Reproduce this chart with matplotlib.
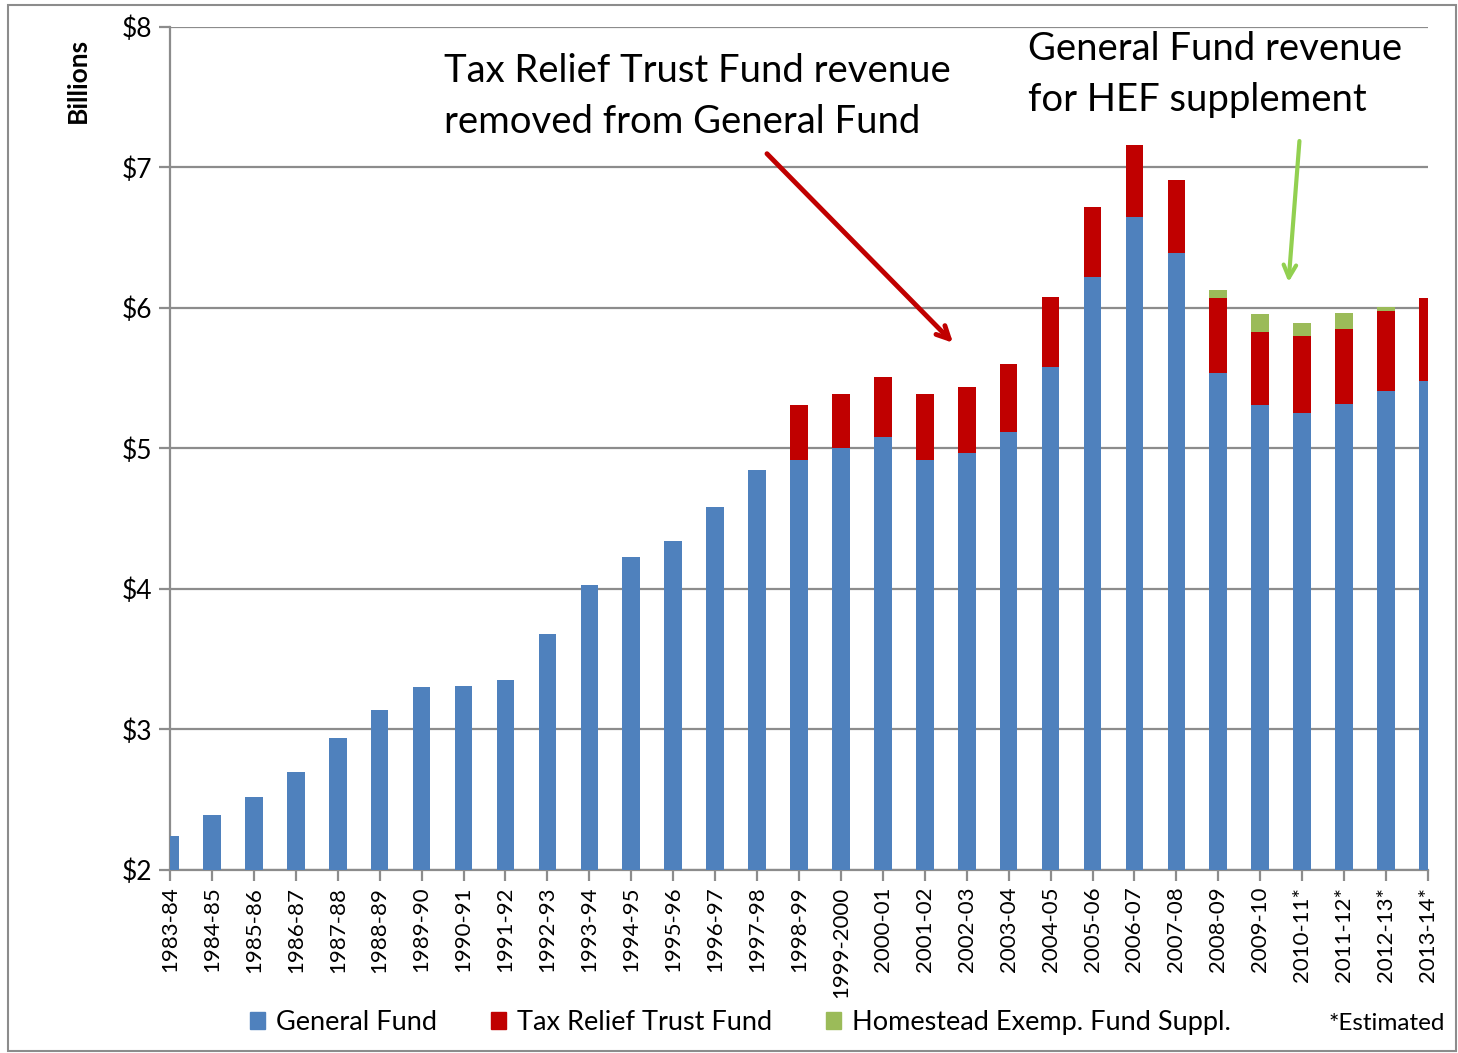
import numpy as np
import matplotlib
matplotlib.use("Agg")
import matplotlib.pyplot as plt
from matplotlib.patches import Rectangle, Patch

plt.rcParams['font.family'] = ['Lato', 'DejaVu Sans']

years = ['1983-84', '1984-85', '1985-86', '1986-87', '1987-88', '1988-89',
         '1989-90', '1990-91', '1991-92', '1992-93', '1993-94', '1994-95',
         '1995-96', '1996-97', '1997-98', '1998-99', '1999-2000', '2000-01',
         '2001-02', '2002-03', '2003-04', '2004-05', '2005-06', '2006-07',
         '2007-08', '2008-09', '2009-10', '2010-11*', '2011-12*', '2012-13*',
         '2013-14*']

# billions of dollars
general_fund = [2.24, 2.39, 2.52, 2.70, 2.94, 3.14, 3.30, 3.31, 3.35, 3.68,
                4.03, 4.23, 4.34, 4.58, 4.85, 4.92, 5.00, 5.08, 4.92, 4.97,
                5.12, 5.58, 6.22, 6.65, 6.39, 5.54, 5.31, 5.25, 5.32, 5.41,
                5.48]
tax_relief = [0, 0, 0, 0, 0, 0, 0, 0, 0, 0,
              0, 0, 0, 0, 0, 0.39, 0.39, 0.43, 0.47, 0.47,
              0.48, 0.50, 0.50, 0.51, 0.52, 0.53, 0.52, 0.55, 0.53, 0.57,
              0.59]
homestead = [0, 0, 0, 0, 0, 0, 0, 0, 0, 0,
             0, 0, 0, 0, 0, 0, 0, 0, 0, 0,
             0, 0, 0, 0, 0, 0.055, 0.13, 0.09, 0.115, 0.025,
             0]

BLUE = '#4F81BD'
RED = '#C00000'
GREEN = '#9BBB59'
GRID = '#8C8C8C'

fig = plt.figure(figsize=(14.58, 10.53), dpi=100)
ax = fig.add_axes([0.1166, 0.1738, 0.8628, 0.8006])

x = np.arange(len(years))
gf = np.array(general_fund)
tr = np.array(tax_relief)
hs = np.array(homestead)
w = 0.42
ax.bar(x, gf - 2, w, bottom=2, color=BLUE, zorder=3)
ax.bar(x, tr, w, bottom=gf, color=RED, zorder=3)
ax.bar(x, hs, w, bottom=gf + tr, color=GREEN, zorder=3)

ax.set_xlim(0, len(years) - 1)
ax.set_ylim(2, 8)
ax.set_yticks(np.arange(2, 9))
ax.set_yticklabels(['$%d' % v for v in range(2, 9)], fontsize=19)
ax.set_xticks(x)
ax.set_xticklabels(years, rotation=90, fontsize=16)
ax.yaxis.grid(True, color=GRID, linewidth=1.6, zorder=0)
ax.set_axisbelow(True)
for side in ['top', 'right']:
    ax.spines[side].set_visible(False)
for side in ['left', 'bottom']:
    ax.spines[side].set_color(GRID)
    ax.spines[side].set_linewidth(1.6)
ax.tick_params(axis='both', colors=GRID, length=8, width=1.6, labelcolor='black')
ax.tick_params(axis='y', pad=5)
ax.tick_params(axis='x', pad=4)

fig.text(78 / 1458, 1 - 80 / 1053, 'Billions', rotation=90, fontsize=19,
         fontweight='bold', ha='center', va='center')

# callouts
fig.text(444 / 1458, 1 - 53 / 1053,
         'Tax Relief Trust Fund revenue\nremoved from General Fund',
         fontsize=27.5, ha='left', va='top', linespacing=1.52)
fig.text(1028 / 1458, 1 - 31 / 1053,
         'General Fund revenue\nfor HEF supplement',
         fontsize=27.5, ha='left', va='top', linespacing=1.52)
ax.annotate('', xy=(0.624, 0.623), xytext=(0.473, 0.852),
            xycoords='axes fraction', textcoords='axes fraction',
            arrowprops=dict(arrowstyle='->,head_length=0.9,head_width=0.45',
                            color=RED, lw=3.5), zorder=5)
ax.annotate('', xy=(0.889, 0.694), xytext=(0.898, 0.868),
            xycoords='axes fraction', textcoords='axes fraction',
            arrowprops=dict(arrowstyle='->,head_length=0.9,head_width=0.45',
                            color='#92D050', lw=3), zorder=5)

handles = [Patch(color=BLUE, label='General Fund'),
           Patch(color=RED, label='Tax Relief Trust Fund'),
           Patch(color=GREEN, label='Homestead Exemp. Fund Suppl.')]
fig.legend(handles=handles, loc='center', bbox_to_anchor=(0.508, 0.029),
           ncol=3, frameon=False, fontsize=19.5, handlelength=0.55,
           handleheight=0.55, handletextpad=0.4, columnspacing=2.0)
fig.text(1445 / 1458, 1 - 1024 / 1053, '*Estimated', fontsize=17.5,
         ha='right', va='center')

# outer frame
fig.patches.append(Rectangle((8 / 1458, 2 / 1053), 1 - 10 / 1458, 1 - 7 / 1053,
                             transform=fig.transFigure, fill=False,
                             edgecolor='#8C8C8C', linewidth=1.5))

fig.savefig('out.png', dpi=100)
